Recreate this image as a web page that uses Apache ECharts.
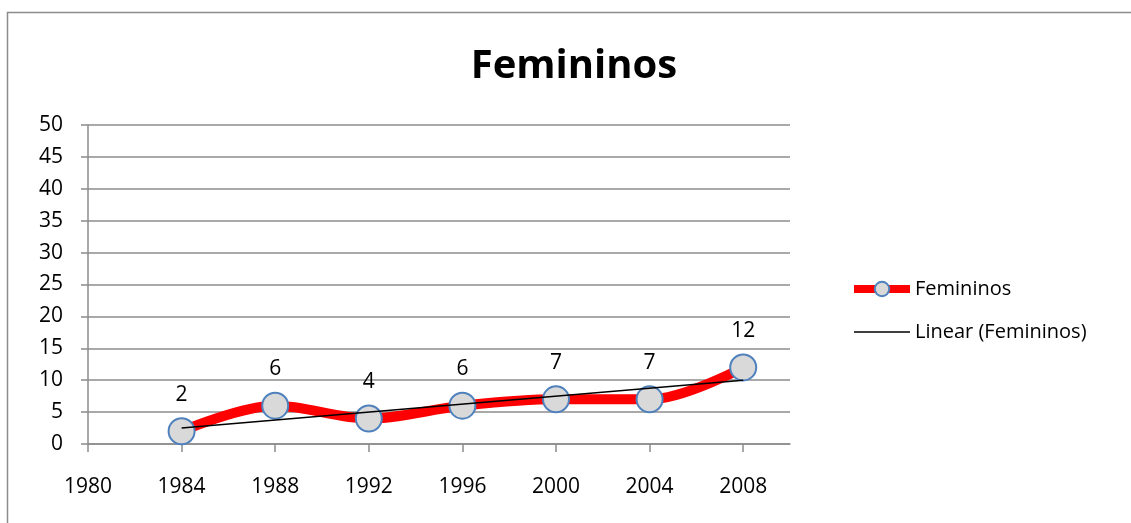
<!DOCTYPE html>
<html>
<head>
<meta charset="utf-8">
<script src="https://cdn.jsdelivr.net/npm/echarts@6/dist/echarts.min.js"></script>
<style>
	html, body { margin: 0; padding: 0; background: #fff; }
	#chart { width: 1131px; height: 523px; }
</style>
</head>
<body>
<div id="chart"></div>
<script>
	// anos e valores
	var years = [1984, 1988, 1992, 1996, 2000, 2004, 2008]
	var femininos = [2, 6, 4, 6, 7, 7, 12]
	// linha de tendência: extremos
	var trendYears = [1984, 2008]
	var trendValues = [2.5, 10]

	var fontFam = '"Open Sans", "Noto Sans", sans-serif'
	var chart = echarts.init(document.getElementById('chart'))

	var option = {
		animation: false,
		backgroundColor: '#fff',
		title: {
			text: 'Femininos',
			left: 569,
			top: 42,
			textAlign: 'center',
			textStyle: { fontFamily: fontFam, fontWeight: 'bold', fontSize: 40, color: '#000' }
		},
		legend: {
			orient: 'vertical',
			left: 845,
			top: 274,
			itemGap: 23,
			itemWidth: 56,
			itemHeight: 18,
			textStyle: { fontFamily: fontFam, fontSize: 20, color: '#000', padding: [0, 0, 0, 0] },
			data: [{
				name: 'Femininos',
				lineStyle: { width: 8 }
			}, {
				name: 'Linear (Femininos)',
				icon: 'path://M0,0H56V1.5H0Z',
				itemStyle: { color: '#000' }
			}]
		},
		grid: { left: 88, right: 341, top: 125, bottom: 79 },
		xAxis: {
			type: 'value',
			min: 1980,
			max: 2010,
			interval: 4,
			axisLine: { lineStyle: { color: '#8c8c8c', width: 1.5 } },
			axisTick: { show: true, length: 8, lineStyle: { color: '#8c8c8c', width: 1.5 } },
			axisLabel: {
				showMaxLabel: false,
				margin: 33,
				fontFamily: fontFam,
				fontSize: 21,
				color: '#000',
				formatter: function (v) { return String(v) }
			},
			splitLine: { show: false }
		},
		yAxis: {
			type: 'value',
			min: 0,
			max: 50,
			interval: 5,
			axisLine: { show: true, lineStyle: { color: '#8c8c8c', width: 1.5 } },
			axisTick: { show: true, length: 7, lineStyle: { color: '#8c8c8c', width: 1.5 } },
			axisLabel: { margin: 25, fontFamily: fontFam, fontSize: 21, color: '#000' },
			splitLine: { lineStyle: { color: '#8c8c8c', width: 1.5 } }
		},
		series: [{
			name: 'Femininos',
			type: 'line',
			smooth: 0.35,
			data: years.map(function (y, i) { return [y, femininos[i]] }),
			lineStyle: { color: '#ff0000', width: 10 },
			itemStyle: { color: '#d9d9d9', borderColor: '#4f81bd', borderWidth: 2 },
			symbol: 'circle',
			symbolSize: 26,
			z: 2,
			label: {
				show: true,
				position: 'top',
				distance: 12,
				fontFamily: fontFam,
				fontSize: 21,
				color: '#000'
			}
		}, {
			name: 'Linear (Femininos)',
			type: 'line',
			symbol: 'none',
			data: trendYears.map(function (y, i) { return [y, trendValues[i]] }),
			lineStyle: { color: '#000', width: 1.5 },
			itemStyle: { color: '#000' },
			z: 3
		}],
		graphic: [{
			type: 'rect',
			shape: { x: 7.5, y: 12.5, width: 1200, height: 600 },
			style: { fill: 'none', stroke: '#8c8c8c', lineWidth: 1.5 },
			silent: true
		}]
	}
	chart.setOption(option)
</script>
</body>
</html>
